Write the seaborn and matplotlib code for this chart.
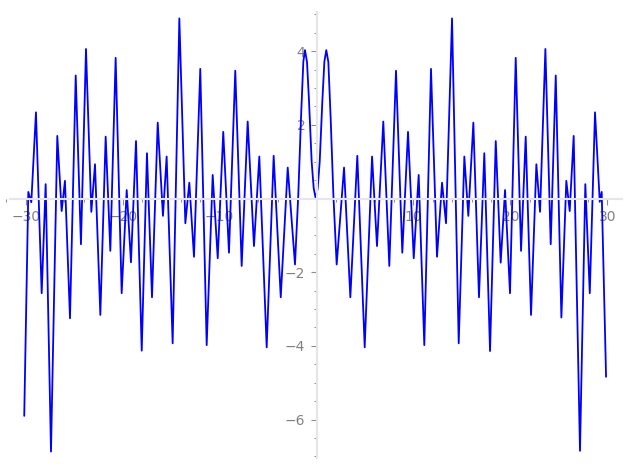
import numpy as np
import pandas as pd
import matplotlib
matplotlib.use('Agg')
import matplotlib.pyplot as plt
from matplotlib.ticker import MultipleLocator, FixedLocator
import seaborn as sns

# Curve: turning points, left part (x < -2)
x_left = [-30.15, -29.73, -29.42, -28.94, -28.35, -27.94, -27.39, -26.74, -26.29, -25.95,
          -25.43, -24.84, -24.30, -23.78, -23.23, -22.85, -22.30, -21.75, -21.27, -20.72,
          -20.10, -19.58, -19.14, -18.62, -18.03, -17.49, -16.97, -16.38, -15.84, -15.46,
          -14.84, -14.15, -13.53, -13.12, -12.64, -11.99, -11.33, -10.71, -10.19, -9.62,
          -9.03, -8.38, -7.72, -7.10, -6.45, -5.90, -5.14, -4.42, -3.69, -2.97, -2.22]
y_left = [-5.90, 0.18, -0.10, 2.34, -2.57, 0.39, -6.87, 1.70, -0.34, 0.48,
          -3.25, 3.34, -1.24, 4.06, -0.36, 0.93, -3.16, 1.68, -1.42, 3.82,
          -2.57, 0.23, -1.73, 1.56, -4.13, 1.23, -2.68, 2.06, -0.47, 1.14,
          -3.93, 4.89, -0.67, 0.43, -1.58, 3.52, -3.98, 0.64, -1.62, 1.81,
          -1.47, 3.47, -1.83, 2.09, -1.29, 1.14, -4.04, 1.16, -2.68, 0.84, -1.79]

# central double hump, read more densely
x_mid = [-1.88, -1.60, -1.36, -1.19, -0.98, -0.77, -0.50, -0.29, -0.08,
         0.12, 0.33, 0.60, 0.81, 1.01, 1.22, 1.46, 1.74, 2.08]
y_mid = [0.10, 2.18, 3.71, 4.03, 3.71, 2.63, 1.00, 0.28, 0.00,
         0.28, 1.00, 2.63, 3.71, 4.03, 3.71, 2.18, 0.10, -1.79]

# right part (x > 2)
x_right = [2.84, 3.49, 4.21, 4.97, 5.73, 6.24, 6.89, 7.51, 8.20, 8.85,
           9.44, 10.03, 10.54, 11.12, 11.81, 12.43, 12.95, 13.36, 13.98, 14.67,
           15.25, 15.66, 16.18, 16.76, 17.31, 17.90, 18.49, 19.00, 19.45, 19.96,
           20.55, 21.10, 21.58, 22.13, 22.68, 23.06, 23.61, 24.16, 24.68, 25.26,
           25.77, 26.12, 26.53, 27.18, 27.73, 28.19, 28.73, 29.22, 29.42, 29.87]
y_right = [0.84, -2.68, 1.16, -4.04, 1.14, -1.29, 2.09, -1.83, 3.47, -1.47,
           1.81, -1.62, 0.64, -3.98, 3.52, -1.58, 0.43, -0.67, 4.89, -3.93,
           1.14, -0.47, 2.06, -2.68, 1.23, -4.14, 1.56, -1.74, 0.23, -2.57,
           3.82, -1.42, 1.68, -3.16, 0.93, -0.36, 4.06, -1.24, 3.34, -3.23,
           0.48, -0.34, 1.70, -6.85, 0.39, -2.57, 2.34, -0.09, 0.18, -4.84]

x_ticks = [-30, -20, -10, 10, 20, 30]
y_ticks = [-6, -4, -2, 2, 4]

df = pd.DataFrame({'x': x_left + x_mid + x_right,
                   'y': y_left + y_mid + y_right})

sns.set_style('white')

fig = plt.figure(figsize=(6.27, 4.70), dpi=100)
ax = fig.add_axes([0, 0, 1, 1])
sns.lineplot(data=df, x='x', y='y', ax=ax, color='#0000ff', linewidth=1.3,
             sort=False, estimator=None)

ax.set_xlim(-32.65, 32.03)
ax.set_ylim(-7.37, 5.39)

# axes through the origin, light grey
for side in ['top', 'right']:
    ax.spines[side].set_visible(False)
ax.spines['left'].set_position(('data', 0))
ax.spines['bottom'].set_position(('data', 0))
ax.spines['left'].set_bounds(-7.05, 5.06)
ax.spines['bottom'].set_bounds(-31.6, 31.5)
for side in ['left', 'bottom']:
    ax.spines[side].set_color('#e6e6e6')
    ax.spines[side].set_linewidth(1.5)

ax.xaxis.set_major_locator(FixedLocator(x_ticks))
ax.yaxis.set_major_locator(FixedLocator(y_ticks))
ax.xaxis.set_minor_locator(MultipleLocator(2))
ax.yaxis.set_minor_locator(MultipleLocator(0.5))
ax.set_xticklabels([f'\u2212{abs(t)}' if t < 0 else str(t) for t in x_ticks])
ax.set_yticklabels([f'\u2212{abs(t)}' if t < 0 else str(t) for t in y_ticks])
ax.tick_params(which='both', bottom=True, left=True, top=False, right=False)
ax.tick_params(which='major', direction='out', length=4, width=0.8, color='#8c8c8c',
               labelcolor='#808080', labelsize=10, pad=4)
ax.tick_params(which='minor', direction='out', length=2.5, width=0.7, color='#8c8c8c')
ax.set_xlabel('')
ax.set_ylabel('')

plt.savefig('out.png', dpi=100)
plt.close()
